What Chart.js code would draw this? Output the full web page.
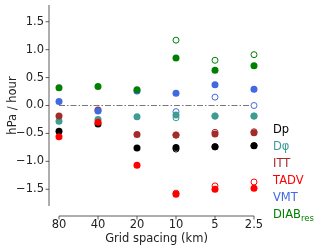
<!DOCTYPE html>
<html>
<head>
<meta charset="utf-8">
<script src="https://cdn.jsdelivr.net/npm/chart.js@4/dist/chart.umd.min.js"></script>
<style>
  html, body { margin: 0; padding: 0; background: #fff; }
  #wrap { width: 320px; height: 248px; }
</style>
</head>
<body>
<div id="wrap"><canvas id="chart" width="320" height="248"></canvas></div>
<script>
const gridLabels = ["80", "40", "20", "10", "5", "2.5"];
const yTicks = [-1.5, -1.0, -0.5, 0.0, 0.5, 1.0, 1.5];

// filled markers
const dp = [-0.46, -0.33, -0.76, -0.75, -0.74, -0.72];
const dphi = [-0.28, -0.25, -0.20, -0.17, -0.19, -0.19];
const itt = [-0.19, -0.08, -0.52, -0.53, -0.51, -0.49];
const tadv = [-0.56, -0.30, -1.07, -1.59, -1.50, -1.48];
const vmt = [0.07, -0.10, 0.26, 0.22, 0.37, 0.29];
const diab = [0.32, 0.34, 0.28, 0.85, 0.63, 0.71];

// open markers
const dpOpen = [null, null, null, -0.78, -0.74, -0.72];
const dphiOpen = [null, null, null, -0.22, -0.19, -0.19];
const ittOpen = [null, null, null, -0.53, -0.48, -0.47];
const tadvOpen = [null, null, null, -1.57, -1.44, -1.37];
const vmtOpen = [null, null, null, -0.11, 0.15, 0.0];
const diabOpen = [null, null, null, 1.17, 0.81, 0.91];

const zeroLine = [0, 0, 0, 0, 0, 0];

const seriesNames = ["Dp", "D\u03c6", "ITT", "TADV", "VMT", "DIAB"];
const seriesColors = ["#000000", "#3e9c92", "#a52a2a", "#ff0000", "#4169e1", "#008000"];
const filledData = [dp, dphi, itt, tadv, vmt, diab];
const openData = [dpOpen, dphiOpen, ittOpen, tadvOpen, vmtOpen, diabOpen];

const FONT = "'DejaVu Sans', sans-serif";

const datasets = [];
filledData.forEach((data, i) => {
  datasets.push({
    label: seriesNames[i],
    data: data,
    showLine: false,
    pointRadius: 3.5,
    pointBorderWidth: 0,
    pointBackgroundColor: seriesColors[i],
    pointBorderColor: seriesColors[i],
    order: 20 - i,
  });
});
openData.forEach((data, i) => {
  datasets.push({
    label: seriesNames[i] + " open",
    data: data,
    showLine: false,
    pointRadius: 3,
    pointBorderWidth: 1,
    pointBackgroundColor: "#ffffff",
    pointBorderColor: seriesColors[i],
    order: 40 - i,
  });
});
datasets.push({
  label: "zero",
  data: zeroLine,
  borderColor: "#777777",
  borderWidth: 1,
  borderDash: [6, 2, 1.5, 2],
  pointRadius: 0,
  order: 99,
});

// offset spines (matplotlib style) plus text legend
const spinesPlugin = {
  id: "spines",
  afterDraw(chart) {
    const ctx = chart.ctx;
    const area = chart.chartArea;
    const xs = chart.scales.x;
    const ys = chart.scales.y;
    ctx.save();
    ctx.strokeStyle = "#333333";
    ctx.lineWidth = 0.8;

    const lx = area.left - 10;
    ctx.beginPath();
    ctx.moveTo(lx, area.top);
    ctx.lineTo(lx, area.bottom);
    yTicks.forEach((v) => {
      const py = ys.getPixelForValue(v);
      ctx.moveTo(lx, py);
      ctx.lineTo(lx - 3.5, py);
    });
    ctx.stroke();

    const by = area.bottom + 10;
    ctx.beginPath();
    ctx.moveTo(area.left, by);
    ctx.lineTo(area.right, by);
    gridLabels.forEach((l, i) => {
      const px = xs.getPixelForValue(i);
      ctx.moveTo(px, by);
      ctx.lineTo(px, by + 3.5);
    });
    ctx.stroke();

    // legend: coloured text only
    ctx.textBaseline = "middle";
    ctx.textAlign = "left";
    const legX = 273;
    seriesNames.forEach((name, i) => {
      const ly = 130 + i * 17;
      ctx.fillStyle = seriesColors[i];
      ctx.font = "11.5px " + FONT;
      ctx.fillText(name, legX, ly);
      if (name === "DIAB") {
        const w = ctx.measureText(name).width;
        ctx.font = "8.5px " + FONT;
        ctx.fillText("res", legX + w, ly + 3.5);
      }
    });
    ctx.restore();
  },
};

const ctx = document.getElementById("chart").getContext("2d");
new Chart(ctx, {
  type: "line",
  data: { labels: gridLabels, datasets: datasets },
  plugins: [spinesPlugin],
  options: {
    responsive: false,
    animation: false,
    events: [],
    layout: { padding: { top: 3, right: 66, bottom: 0, left: 0 } },
    plugins: { legend: { display: false }, tooltip: { enabled: false } },
    scales: {
      x: {
        type: "category",
        offset: false,
        grid: { display: false, drawTicks: false },
        border: { display: false },
        ticks: { color: "#222", padding: 12, maxRotation: 0, font: { family: FONT, size: 11.5 } },
        title: {
          display: true,
          text: "Grid spacing (km)",
          color: "#222",
          padding: { top: 0, bottom: 2 },
          font: { family: FONT, size: 11.5 },
        },
        afterFit(scale) {
          scale.height = 42;
        },
      },
      y: {
        min: -1.8,
        max: 1.8,
        grid: { display: false, drawTicks: false },
        border: { display: false },
        ticks: {
          stepSize: 0.5,
          includeBounds: false,
          padding: 15,
          color: "#222",
          font: { family: FONT, size: 11.5 },
          callback: (v) => (v < 0 ? "\u2212" + Math.abs(v).toFixed(1) : v.toFixed(1)),
        },
        title: {
          display: true,
          text: "hPa / hour",
          color: "#222",
          padding: { top: 6, bottom: 0 },
          font: { family: FONT, size: 11.5 },
        },
        afterFit(scale) {
          scale.width = 59;
          scale.paddingTop = 0;
          scale.paddingBottom = 0;
        },
      },
    },
  },
});
</script>
</body>
</html>
